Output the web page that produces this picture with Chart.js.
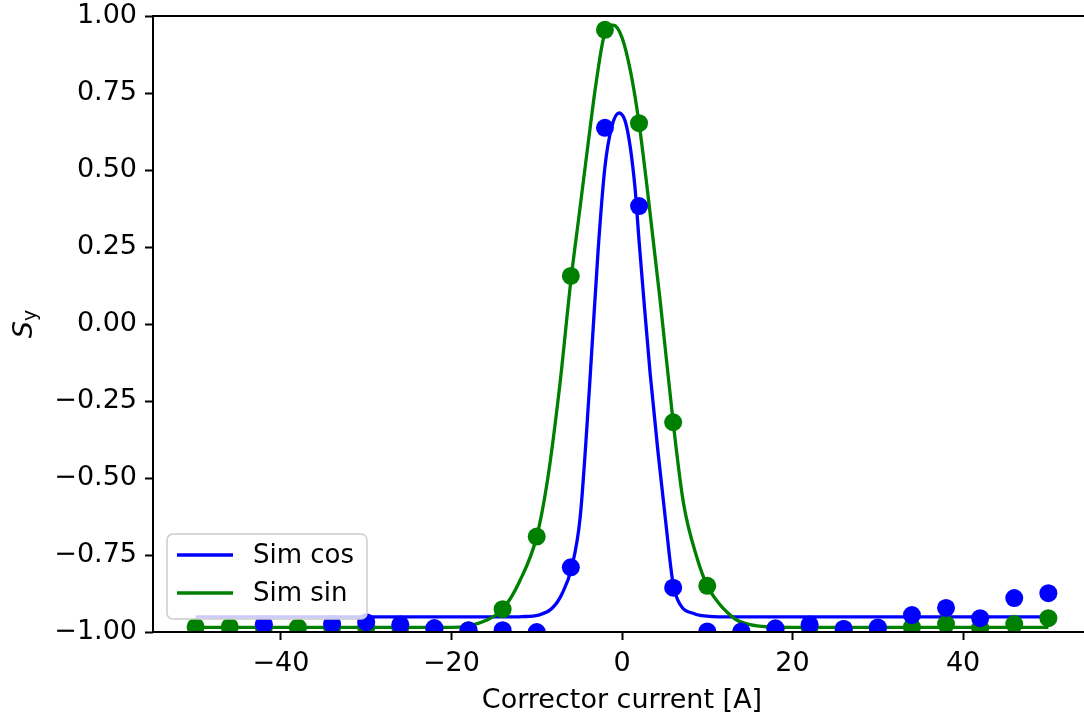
<!DOCTYPE html>
<html>
<head>
<meta charset="utf-8">
<title>S_y vs corrector current</title>
<script src="https://cdn.jsdelivr.net/npm/chart.js@4.4.1/dist/chart.umd.min.js"></script>
<style>
	html, body { margin: 0; padding: 0; background: #fff; overflow: hidden; }
	/* the original figure is cropped a few pixels left of its right spine */
	#wrap { width: 1100px; height: 718px; }
</style>
</head>
<body>
<div id="wrap"><canvas id="syChart"></canvas></div>
<script>
"use strict"

// measured points (corrector current in A)
const currents = [-50, -46, -42, -38, -34, -30, -26, -22, -18, -14, -10, -6, -2, 2, 6, 10, 14, 18, 22, 26, 30, 34, 38, 42, 46, 50]
const cosMeasured = [null, null, -0.975, null, -0.974, -0.968, -0.976, -0.987, -0.994, -0.994, -1.0, -0.79, 0.637, 0.383, -0.856, -0.998, -0.998, -0.988, -0.976, -0.99, -0.985, -0.945, -0.922, -0.955, -0.89, -0.874]
const sinMeasured = [-0.983, -0.983, -0.985, -0.985, -0.985, -0.985, -0.985, -0.99, -0.995, -0.926, -0.69, 0.156, 0.955, 0.652, -0.319, -0.85, -1.0, -0.99, -0.985, -0.99, -0.988, -0.984, -0.974, -0.987, -0.974, -0.955]

// simulation curves
const cosSimX = [-50, -20, -14, -11.7, -9.8, -8.2, -7.0, -5.9, -4.9, -3.8, -2.8, -2, -1.2, -0.35, 0.55, 1.5, 2.0, 2.5, 3.3, 4.2, 5.1, 6.0, 6.8, 8.4, 10.7, 14, 50]
const cosSimY = [-0.951, -0.951, -0.951, -0.95, -0.945, -0.923, -0.874, -0.79, -0.626, -0.2, 0.24, 0.51, 0.64, 0.685, 0.64, 0.45, 0.27, 0.1, -0.16, -0.41, -0.636, -0.845, -0.91, -0.94, -0.95, -0.951, -0.951]
const sinSimX = [-50, -20, -18, -16, -14, -12, -10, -8.7, -7.3, -6, -5, -4, -3, -2, -1, 0, 1, 2, 3, 4.5, 6, 7.2, 8.8, 10, 11.3, 12.3, 13.5, 15, 17, 20, 50]
const sinSimY = [-0.985, -0.985, -0.98, -0.963, -0.926, -0.835, -0.69, -0.5, -0.2, 0.14, 0.36, 0.58, 0.79, 0.945, 0.97, 0.93, 0.82, 0.652, 0.43, 0.07, -0.319, -0.58, -0.76, -0.85, -0.905, -0.935, -0.962, -0.976, -0.983, -0.985, -0.985]

const xTicks = [-40, -20, 0, 20, 40]
const yTicks = [-1, -0.75, -0.5, -0.25, 0, 0.25, 0.5, 0.75, 1]
const seriesLabels = ["Sim cos", "Sim sin"]
const xTitle = "Corrector current [A]"

const BLUE = "#0000ff"
const GREEN = "#008000"
const FONT = "'DejaVu Sans', sans-serif"
const FS = 27

function toPoints(xs, ys) {
	return xs.map((x, i) => ({ x: x, y: ys[i] }))
}

function minus(s) {
	return s.replace("-", "\u2212")
}

// frame, y label and legend, drawn on top like matplotlib does
const decorations = {
	id: "decorations",
	afterDraw(chart) {
		const ctx = chart.ctx
		const a = chart.chartArea
		ctx.save()

		// spines
		ctx.strokeStyle = "#000"
		ctx.lineWidth = 2
		ctx.strokeRect(a.left, a.top, a.right - a.left, a.bottom - a.top)

		// y label S_y
		ctx.translate(32, (a.top + a.bottom) / 2)
		ctx.rotate(-Math.PI / 2)
		ctx.fillStyle = "#000"
		ctx.textBaseline = "alphabetic"
		ctx.font = "oblique " + FS + "px " + FONT
		const wS = ctx.measureText("S").width
		ctx.font = Math.round(FS * 0.7) + "px " + FONT
		const wy = ctx.measureText("y").width
		const x0 = -(wS + wy) / 2
		ctx.font = "oblique " + FS + "px " + FONT
		ctx.fillText("S", x0, 0)
		ctx.font = Math.round(FS * 0.7) + "px " + FONT
		ctx.fillText("y", x0 + wS, 4)
		ctx.setTransform(1, 0, 0, 1, 0, 0)

		// legend
		const lx = 167, ly = 534, lw = 200, lh = 85
		ctx.beginPath()
		ctx.roundRect(lx, ly, lw, lh, 6)
		ctx.fillStyle = "rgba(255,255,255,0.8)"
		ctx.fill()
		ctx.strokeStyle = "#cccccc"
		ctx.lineWidth = 1.5
		ctx.stroke()

		ctx.font = "26px " + FONT
		ctx.textBaseline = "middle"
		seriesLabels.forEach((name, i) => {
			const d = chart.data.datasets.find((ds) => ds.label === name)
			const yy = ly + 21 + i * 38
			ctx.strokeStyle = d.borderColor
			ctx.lineWidth = 3.3
			ctx.beginPath()
			ctx.moveTo(lx + 10, yy)
			ctx.lineTo(lx + 66, yy)
			ctx.stroke()
			ctx.fillStyle = "#000"
			ctx.fillText(d.label, lx + 86, yy + 1)
		})
		ctx.restore()
	},
}

const ctx = document.getElementById("syChart")
const myChart = new Chart(ctx, {
	type: "scatter",
	data: {
		datasets: [
			{
				label: "cos data",
				data: toPoints(currents, cosMeasured),
				backgroundColor: BLUE,
				borderWidth: 0,
				pointRadius: 9,
				clip: 0,
				order: 0,
			},
			{
				label: "sin data",
				data: toPoints(currents, sinMeasured),
				backgroundColor: GREEN,
				borderWidth: 0,
				pointRadius: 9,
				clip: 0,
				order: 1,
			},
			{
				label: seriesLabels[1],
				data: toPoints(sinSimX, sinSimY),
				showLine: true,
				borderColor: GREEN,
				borderWidth: 3.3,
				pointRadius: 0,
				cubicInterpolationMode: "monotone",
				clip: 0,
				order: 2,
			},
			{
				label: seriesLabels[0],
				data: toPoints(cosSimX, cosSimY),
				showLine: true,
				borderColor: BLUE,
				borderWidth: 3.3,
				pointRadius: 0,
				cubicInterpolationMode: "monotone",
				clip: 0,
				order: 3,
			},
		],
	},
	options: {
		responsive: true,
		maintainAspectRatio: false,
		animation: false,
		devicePixelRatio: 1,
		layout: {
			padding: { left: 0, top: 16, right: 1, bottom: 0 },
		},
		plugins: {
			legend: { display: false },
			tooltip: { enabled: false },
		},
		scales: {
			x: {
				type: "linear",
				min: -55,
				max: 55,
				afterBuildTicks: (scale) => {
					scale.ticks = xTicks.map((v) => ({ value: v }))
				},
				afterFit: (scale) => {
					scale.height = 86
					scale.paddingLeft = 0
					scale.paddingRight = 0
				},
				border: { display: false },
				grid: {
					drawOnChartArea: false,
					drawTicks: true,
					tickLength: 8,
					tickWidth: 2,
					tickColor: "#000",
				},
				ticks: {
					color: "#000",
					padding: 8,
					maxRotation: 0,
					font: { family: FONT, size: FS },
					callback: (v) => minus(String(v)),
				},
				title: {
					display: true,
					text: xTitle,
					color: "#000",
					font: { family: FONT, size: FS },
					padding: { top: 1, bottom: 1 },
				},
			},
			y: {
				type: "linear",
				min: -1,
				max: 1,
				afterBuildTicks: (scale) => {
					scale.ticks = yTicks.map((v) => ({ value: v }))
				},
				afterFit: (scale) => {
					scale.width = 153
					scale.paddingTop = 0
					scale.paddingBottom = 0
				},
				border: { display: false },
				grid: {
					drawOnChartArea: false,
					drawTicks: true,
					tickLength: 8,
					tickWidth: 2,
					tickColor: "#000",
				},
				ticks: {
					color: "#000",
					padding: 8,
					font: { family: FONT, size: FS },
					callback: (v) => minus(v.toFixed(2)),
				},
			},
		},
	},
	plugins: [decorations],
})
</script>
</body>
</html>
